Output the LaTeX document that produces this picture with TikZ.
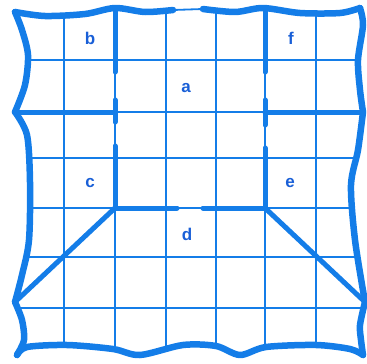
\documentclass[tikz,border=0pt]{standalone}
\usepackage{fontspec}
\setmainfont{Liberation Sans}
\definecolor{lineblue}{RGB}{20,125,232}
\definecolor{textblue}{RGB}{25,95,215}
\begin{document}
\begin{tikzpicture}[x=1pt,y=-1pt,
  thinline/.style={lineblue,line width=1.8pt},
  thickline/.style={lineblue,line width=5pt,line cap=round,line join=round},
  borderline/.style={lineblue,line width=6.5pt,line cap=round,line join=round},
  lbl/.style={textblue,font=\fontsize{17}{17}\selectfont\bfseries,inner sep=0pt}]
\useasboundingbox (0,0) rectangle (367,364);
% border pieces
\def\toplA{(15,12) (45,16) (85,14) (115,8) (145,12) (173,10)}
\def\toplB{(203,9) (235,12) (263,8) (300,13) (340,13) (360,8)}
\def\rightA{(360,8) (363,25) (358,60) (360,90) (363,112)}
\def\rightB{(363,112) (358,150) (351,185) (355,240) (365,302)}
\def\rightC{(365,302) (360,325) (361,340) (363,355)}
\def\bottomA{(363,355) (350,349) (316,345) (266,347) (240,355) (216,346) (183,345) (140,355) (113,349) (67,345) (27,347) (17,355)}
\def\leftC{(17,355) (24,340) (22,320) (15,302)}
\def\leftB{(15,302) (22,275) (29,240) (30,182) (27,135) (15,112)}
\def\leftA{(15,112) (25,85) (28,55) (22,30) (15,12)}
% thin grid clipped to the border
\begin{scope}
\clip plot[smooth] coordinates {\toplA} -- plot[smooth] coordinates {\toplB}
  -- plot[smooth] coordinates {\rightA} -- plot[smooth] coordinates {\rightB}
  -- plot[smooth] coordinates {\rightC} -- plot[smooth] coordinates {\bottomA}
  -- plot[smooth] coordinates {\leftC} -- plot[smooth] coordinates {\leftB}
  -- plot[smooth] coordinates {\leftA} -- cycle;
\foreach \x in {64,115,166,216,265,316} \draw[thinline] (\x,0) -- (\x,364);
\foreach \y in {60,112,158,208,257,308} \draw[thinline] (0,\y) -- (367,\y);
\end{scope}
% border
\draw[thinline] (173,10) -- (203,9);
\draw[borderline] plot[smooth] coordinates {\toplA};
\draw[borderline] plot[smooth] coordinates {\toplB};
\draw[borderline] plot[smooth] coordinates {\rightA};
\draw[borderline] plot[smooth] coordinates {\rightB};
\draw[borderline] plot[smooth] coordinates {\rightC};
\draw[borderline] plot[smooth] coordinates {\bottomA};
\draw[borderline] plot[smooth] coordinates {\leftC};
\draw[borderline] plot[smooth] coordinates {\leftB};
\draw[borderline] plot[smooth] coordinates {\leftA};
% key points
\coordinate (lt) at (115,10);
\coordinate (l1) at (115,72);
\coordinate (l2) at (115,100);
\coordinate (l3) at (115,122);
\coordinate (l4) at (115,146);
\coordinate (lm) at (115,208);
\coordinate (rt) at (265,8);
\coordinate (r1) at (265,72);
\coordinate (r2) at (265,100);
\coordinate (r3) at (265,125);
\coordinate (r4) at (265,148);
\coordinate (rm) at (265,208);
\coordinate (lw) at (15,112);
\coordinate (lc) at (115,112);
\coordinate (rc) at (265,112);
\coordinate (re) at (363,112);
\coordinate (m1) at (177,208);
\coordinate (m2) at (203,208);
\coordinate (ld) at (15,302);
\coordinate (rd) at (365,302);
% thick inner walls
\draw[thickline] (lt) -- (l1);
\draw[thickline] (l2) -- (l3);
\draw[thickline] (l4) -- (lm);
\draw[thickline] (rt) -- (r1);
\draw[thickline] (r2) -- (r3);
\draw[thickline] (r4) -- (rm);
\draw[thickline] (lw) -- (lc);
\draw[thickline] (rc) -- (re);
\draw[thickline] (lm) -- (m1);
\draw[thickline] (m2) -- (rm);
\draw[thickline] (lm) -- (ld);
\draw[thickline] (rm) -- (rd);
% labels
\node[lbl] (b) at (90,38) {b};
\node[lbl] (f) at (291,38) {f};
\node[lbl] (a) at (186,88) {a};
\node[lbl] (c) at (90,183) {c};
\node[lbl] (e) at (290,183) {e};
\node[lbl] (d) at (187,234) {d};
\end{tikzpicture}
\end{document}
